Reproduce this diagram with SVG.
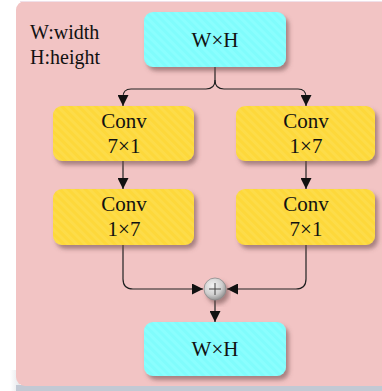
<svg xmlns="http://www.w3.org/2000/svg" width="382" height="391" viewBox="0 0 382 391">
<style>
.t{font-family:"Liberation Serif","Times New Roman",serif;font-size:21px;fill:#111;text-anchor:middle}
.lbl{font-family:"Liberation Serif","Times New Roman",serif;font-size:20px;fill:#111}
.cyan{fill:url(#cyanStripe)}
.yel{fill:url(#yelStripe)}
.box{filter:url(#sh)}
.ln{fill:none;stroke:#222;stroke-width:1.2}
</style>
<defs>
<pattern id="cyanStripe" width="6" height="6" patternUnits="userSpaceOnUse" patternTransform="rotate(-45)">
<rect width="6" height="6" fill="#80fcfc"/>
<rect width="3" height="6" fill="#8afefe"/>
</pattern>
<pattern id="yelStripe" width="6" height="6" patternUnits="userSpaceOnUse" patternTransform="rotate(-45)">
<rect width="6" height="6" fill="#fdd83a"/>
<rect width="3" height="6" fill="#fddc48"/>
</pattern>
<radialGradient id="plus" cx="0.4" cy="0.35" r="0.7">
<stop offset="0" stop-color="#f4f4f4"/>
<stop offset="0.6" stop-color="#cfcfcf"/>
<stop offset="1" stop-color="#8a8a8a"/>
</radialGradient>
<filter id="sh" x="-10%" y="-10%" width="130%" height="140%">
<feDropShadow dx="3" dy="4" stdDeviation="2" flood-color="#6a4a4a" flood-opacity="0.55"/>
</filter>
<linearGradient id="edge" x1="0" y1="0" x2="1" y2="0">
<stop offset="0" stop-color="#ffffff"/>
<stop offset="1" stop-color="#e4e6ea"/>
</linearGradient>
<marker id="ah" viewBox="0 0 11 11" refX="11" refY="5.5" markerWidth="11" markerHeight="11" markerUnits="userSpaceOnUse" orient="auto">
<path d="M0,0 L11,5.5 L0,11 Z" fill="#111"/>
</marker>
</defs>
<rect x="0" y="0" width="382" height="391" fill="#ffffff"/>
<rect x="10" y="370" width="10" height="21" fill="url(#edge)"/>
<rect x="16" y="385" width="366" height="6" fill="#c3c9d4"/>
<rect x="16" y="1" width="380" height="385" rx="9" fill="#f2c4c4"/>
<rect x="20" y="1" width="362" height="1" fill="#f0e0ea"/>

<g id="legend">
<text class="lbl" x="30" y="39">W:width</text>
<text class="lbl" x="30" y="64">H:height</text>
</g>

<g id="connectors">
<path class="ln" d="M215,67 V80 Q215,89 206,89 H131 Q123,89 123,97 V106" marker-end="url(#ah)"/>
<path class="ln" d="M215,80 Q215,89 224,89 H298 Q306,89 306,97 V106" marker-end="url(#ah)"/>
<path class="ln" d="M123,161 V189" marker-end="url(#ah)"/>
<path class="ln" d="M306,161 V189" marker-end="url(#ah)"/>
<path class="ln" d="M123,245 V279 Q123,289 133,289 H203" marker-end="url(#ah)"/>
<path class="ln" d="M306,245 V279 Q306,289 296,289 H227" marker-end="url(#ah)"/>
<path class="ln" d="M215,300 V322" marker-end="url(#ah)"/>
</g>

<g id="input">
<rect class="box cyan" x="144" y="12" width="142" height="55" rx="9"/>
<text class="t" x="215" y="47">W×H</text>
</g>

<g id="conv_l1">
<rect class="box yel" x="53" y="106" width="141" height="55" rx="9"/>
<text class="t" x="124" y="128">Conv</text>
<text class="t" x="124" y="153">7×1</text>
</g>
<g id="conv_l2">
<rect class="box yel" x="53" y="189" width="141" height="56" rx="9"/>
<text class="t" x="124" y="211">Conv</text>
<text class="t" x="124" y="236">1×7</text>
</g>
<g id="conv_r1">
<rect class="box yel" x="236" y="106" width="139" height="55" rx="9"/>
<text class="t" x="306" y="128">Conv</text>
<text class="t" x="306" y="153">1×7</text>
</g>
<g id="conv_r2">
<rect class="box yel" x="236" y="189" width="139" height="56" rx="9"/>
<text class="t" x="306" y="211">Conv</text>
<text class="t" x="306" y="236">7×1</text>
</g>

<g id="add">
<circle cx="215" cy="289" r="11" fill="url(#plus)" stroke="#8c8c8c" stroke-width="0.8" filter="url(#sh)"/>
<path d="M209,289 H221 M215,283 V295" stroke="#444" stroke-width="1" fill="none"/>
</g>

<g id="output">
<rect class="box cyan" x="144" y="322" width="142" height="54" rx="9"/>
<text class="t" x="215" y="356">W×H</text>
</g>
</svg>
